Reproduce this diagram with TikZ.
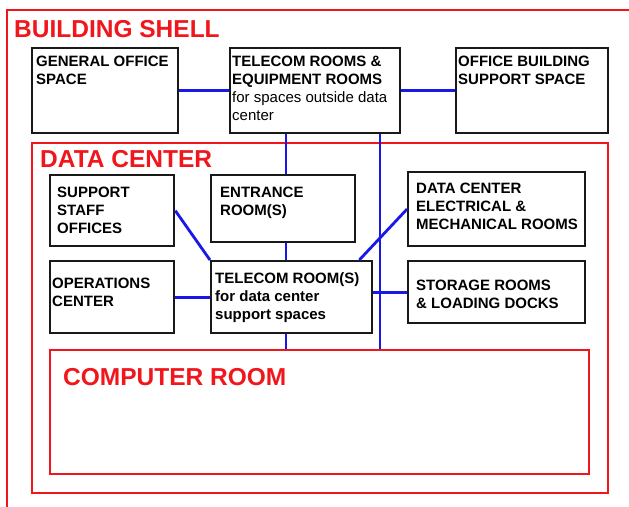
\documentclass[tikz,border=0pt]{standalone}
\usepackage{fontspec}
\setmainfont{Liberation Sans}
\definecolor{shellred}{RGB}{240,22,28}
\definecolor{linkblue}{RGB}{24,24,232}
\begin{document}
\begin{tikzpicture}[x=1pt,y=-1pt,
  room/.style={draw=black!90, line width=2.3pt, fill=white, rectangle, inner sep=0pt, anchor=north west},
  zone/.style={draw=shellred, line width=2.1pt},
  zonetitle/.style={text=shellred, font=\fontsize{24.5}{28}\selectfont\bfseries, anchor=base west, inner sep=0pt},
  roomtext/.style={font=\fontsize{15}{18}\selectfont\bfseries, align=left, anchor=north west, inner sep=0pt, yshift=-2pt},
  link/.style={draw=linkblue, line width=2.8pt}]
\useasboundingbox (0,0) rectangle (629,506);
\clip (0,0) rectangle (629,506);
\fill[white] (0,0) rectangle (629,506);

% zones
\draw[zone] (7,10) rectangle (660,540);
\node[zonetitle] (shell-t) at (14,37) {BUILDING SHELL};
\node[zone, rectangle, inner sep=0pt, anchor=north west, minimum width=576pt, minimum height=350pt] (dc) at (31,142) {};
\node[zonetitle] (dc-t) at (40,167) {DATA CENTER};
\node[zone, rectangle, inner sep=0pt, anchor=north west, minimum width=539pt, minimum height=124pt] (cr) at (49,349) {};
\node[zonetitle] (cr-t) at (63,385) {COMPUTER ROOM};

% rooms
\node[room, minimum width=146pt, minimum height=85pt] (gos) at (31,47) {};
\node[room, minimum width=170pt, minimum height=85pt] (tel) at (229,47) {};
\node[room, minimum width=152pt, minimum height=85pt] (obs) at (455,47) {};
\node[room, minimum width=124pt, minimum height=71pt] (sso) at (49,174) {};
\node[room, minimum width=144pt, minimum height=67pt] (ent) at (210,174) {};
\node[room, minimum width=177pt, minimum height=74pt] (dce) at (407,171) {};
\node[room, minimum width=124pt, minimum height=72pt] (opc) at (49,260) {};
\node[room, minimum width=161pt, minimum height=72pt] (trs) at (210,260) {};
\node[room, minimum width=177pt, minimum height=62pt] (sto) at (407,260) {};

% room labels
\node[roomtext] (gos-t) at (36,54) {GENERAL OFFICE\\SPACE};
\node[roomtext, font=\fontsize{15}{18}\selectfont] (tel-t) at (232,54)
  {\textbf{TELECOM ROOMS \&}\\\textbf{EQUIPMENT ROOMS}\\for spaces outside data\\center};
\node[roomtext] (obs-t) at (458,54) {OFFICE BUILDING\\SUPPORT SPACE};
\node[roomtext] (sso-t) at (57,185) {SUPPORT\\STAFF\\OFFICES};
\node[roomtext] (ent-t) at (220,185) {ENTRANCE\\ROOM(S)};
\node[roomtext] (dce-t) at (416,181) {DATA CENTER\\ELECTRICAL \&\\MECHANICAL ROOMS};
\node[roomtext] (opc-t) at (52,276) {OPERATIONS\\CENTER};
\node[roomtext] (trs-t) at (215,270) {TELECOM ROOM(S)\\for data center\\support spaces};
\node[roomtext] (sto-t) at (416,278) {STORAGE ROOMS\\\& LOADING DOCKS};

% cabling between rooms
\coordinate (v1) at (286,0);
\coordinate (v2) at (380,0);
\draw[link] (gos.east) -- (tel.west);
\draw[link] (tel.east) -- (obs.west);
\draw[link] (tel.south -| v1) -- (ent.north -| v1);
\draw[link] (ent.south -| v1) -- (trs.north -| v1);
\draw[link] (trs.south -| v1) -- (cr.north -| v1);
\draw[link] (tel.south -| v2) -- (cr.north -| v2);
\draw[link] (sso.east) -- (trs.north west);
\draw[link] (opc.east) -- (trs.west);
\draw[link] ([xshift=-14pt]trs.north east) -- (dce.west);
\draw[link] (trs.east |- sto.west) -- (sto.west);
\end{tikzpicture}
\end{document}
